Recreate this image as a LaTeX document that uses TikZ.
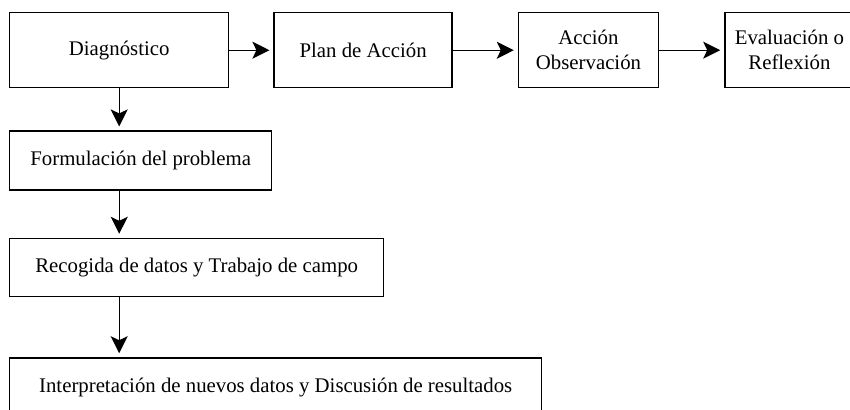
\documentclass[tikz,border=0pt]{standalone}
\usepackage{fontspec}
\setmainfont{Liberation Serif}
\usetikzlibrary{arrows.meta,positioning}

\begin{document}
\begin{tikzpicture}[
  node distance=22pt,
  every node/.style={font=\fontsize{10.4}{12.5}\selectfont,align=center},
  box/.style={draw,line width=0.7pt,inner sep=2pt,minimum height=37.5pt},
  arr/.style={-{Stealth[length=8.5pt,width=8.5pt,inset=2pt]},line width=0.7pt,shorten >=2pt}
]

% page frame
\useasboundingbox (0,0) rectangle (425pt,-204.5pt);
\clip (0,0) rectangle (425pt,-204.5pt);

% ============================================================
% TOP ROW: action research cycle
% ============================================================

\node[box,minimum width=109.5pt,anchor=north west] (diag) at (4.5pt,-6pt) {Diagnóstico};
\node[box,minimum width=89pt,right=22pt of diag] (plan) {Plan de Acción};
\node[box,minimum width=70pt,right=32.5pt of plan] (accion) {Acción\\Observación};
\node[box,minimum width=64.5pt,right=32.5pt of accion] (eval) {Evaluación o\\Reflexión};

\draw[arr] (diag) -- (plan);
\draw[arr] (plan) -- (accion);
\draw[arr] (accion) -- (eval);

% ============================================================
% LEFT COLUMN: steps of the diagnosis
% ============================================================

\node[box,minimum width=131pt,minimum height=29.5pt,below right=21pt and 0pt of diag.south west] (form) {Formulación del problema};
\node[box,minimum width=187pt,minimum height=29pt,below right=23.5pt and 0pt of form.south west] (recog) {Recogida de datos y Trabajo de campo};
\node[box,minimum width=266pt,minimum height=30pt,below right=30pt and 0pt of recog.south west] (interp) {Interpretación de nuevos datos y Discusión de resultados};

\draw[arr] (diag.south) -- (diag.south |- form.north);
\draw[arr] (diag.south |- form.south) -- (diag.south |- recog.north);
\draw[arr] (diag.south |- recog.south) -- (diag.south |- interp.north);

\end{tikzpicture}
\end{document}
